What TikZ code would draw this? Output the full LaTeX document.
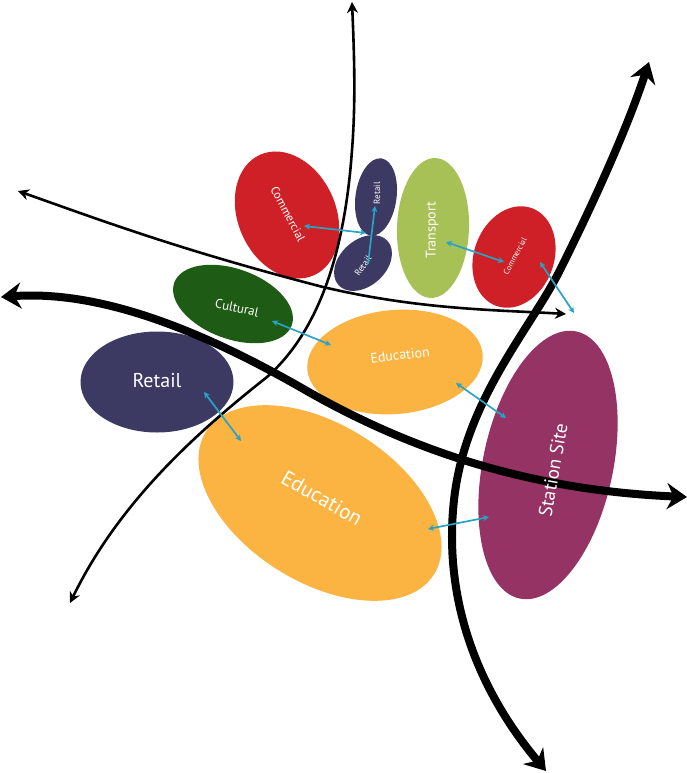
\documentclass[tikz,border=0pt]{standalone}
\usepackage{fontspec}
\setmainfont{PT Sans}
\usetikzlibrary{shapes.geometric,arrows.meta}
\definecolor{cred}{RGB}{206,32,38}
\definecolor{cnavy}{RGB}{60,58,98}
\definecolor{clime}{RGB}{168,193,87}
\definecolor{cdgreen}{RGB}{30,91,20}
\definecolor{corange}{RGB}{251,179,66}
\definecolor{cpurple}{RGB}{148,51,100}
\definecolor{cblue}{RGB}{41,163,197}
\begin{document}
\begin{tikzpicture}[x=1pt,y=-1pt,
  blob/.style={ellipse, inner sep=0pt, text=white},
  lbl/.style={text=white, inner sep=0pt},
  fs/.style={font=\fontsize{#1}{#1}\selectfont},
  link/.style={draw=cblue, line width=1.7pt, {Stealth[length=6pt,width=6pt]}-{Stealth[length=6pt,width=6pt]}},
  linkone/.style={draw=cblue, line width=1.7pt, -{Stealth[length=6pt,width=6pt]}},
  thinroad/.style={draw=black, line width=2.6pt, {Stealth[length=11pt,width=11pt]}-{Stealth[length=11pt,width=11pt]}},
  thickroad/.style={draw=black, line width=8pt, {Stealth[length=20pt,width=26pt]}-{Stealth[length=20pt,width=26pt]}}]
\useasboundingbox (0,0) rectangle (687,773);

% zones
\node[blob, fill=cred, minimum width=132pt, minimum height=98pt, rotate=-66] (com1) at (287,215) {};
\node[blob, fill=cnavy, minimum width=78pt, minimum height=41pt, rotate=82] (ret1) at (376,197) {};
\node[blob, fill=cnavy, minimum width=66pt, minimum height=46pt, rotate=42] (ret2) at (363,263) {};
\node[blob, fill=clime, minimum width=140pt, minimum height=72pt, rotate=88] (trn) at (433,228) {};
\node[blob, fill=cred, minimum width=104pt, minimum height=80pt, rotate=70] (com2) at (514,257) {};
\node[blob, fill=cdgreen, minimum width=125pt, minimum height=70pt, rotate=-20] (cul) at (233,304) {};
\node[blob, fill=corange, minimum width=176pt, minimum height=104pt, rotate=5] (edu1) at (395,362) {};
\node[blob, fill=cnavy, minimum width=153pt, minimum height=101pt] (ret3) at (157,382) {};
\node[blob, fill=corange, minimum width=269pt, minimum height=158pt, rotate=-32] (edu2) at (320,503) {};
\node[blob, fill=cpurple, minimum width=273pt, minimum height=130pt, rotate=78] (sta) at (548,465) {};

% road end points
\coordinate (a1) at (70,603);   \coordinate (a2) at (352,2);
\coordinate (b1) at (18,191);   \coordinate (b2) at (566,314);
\coordinate (c1) at (1,297);    \coordinate (c2) at (687,497);
\coordinate (d1) at (546,771);  \coordinate (d2) at (649,62);

\draw[thinroad] (a1) .. controls (120,500) and (200,430) .. (267,377)
  .. controls (320,330) and (345,250) .. (352,150)
  .. controls (356,100) and (354,50) .. (a2);
\draw[thinroad] (b1) .. controls (100,220) and (180,250) .. (323,287)
  .. controls (420,310) and (500,310) .. (b2);
\draw[thickroad] (c1) .. controls (100,290) and (200,330) .. (300,387)
  .. controls (400,445) and (520,490) .. (c2);
\draw[thickroad] (d1) .. controls (478,690) and (443,600) .. (454,500)
  .. controls (465,400) and (530,330) .. (560,270)
  .. controls (600,190) and (630,120) .. (d2);

% labels
\node[lbl, fs=12, rotate=-62] (com1t) at (288,214) {Commercial};
\node[lbl, fs=9, rotate=90] (ret1t) at (377,193) {Retail};
\node[lbl, fs=9, rotate=55] (ret2t) at (363,266) {Retail};
\node[lbl, fs=14, rotate=90] (trnt) at (432,230) {Transport};
\node[lbl, fs=8, rotate=62] (com2t) at (515,256) {Commercial};
\node[lbl, fs=13, rotate=-12] (cult) at (237,308) {Cultural};
\node[lbl, fs=14, rotate=7] (edu1t) at (400,355) {Education};
\node[lbl, fs=20] (ret3t) at (157,381) {Retail};
\node[lbl, fs=21, rotate=-30] (edu2t) at (322,498) {Education};
\node[lbl, fs=19, rotate=80] (stat) at (553,470) {Station Site};

% links
\coordinate (l1a) at (304,226); \coordinate (l1b) at (366,233);
\coordinate (l2a) at (368,264); \coordinate (l2b) at (375,206);
\coordinate (l3a) at (446,242); \coordinate (l3b) at (504,262);
\coordinate (l4a) at (540,262); \coordinate (l4b) at (574,313);
\coordinate (l5a) at (272,321); \coordinate (l5b) at (331,345);
\coordinate (l6a) at (456,383); \coordinate (l6b) at (506,418);
\coordinate (l7a) at (204,392); \coordinate (l7b) at (241,441);
\coordinate (l8a) at (428,529); \coordinate (l8b) at (489,517);
\draw[link] (l1a) -- (l1b);
\draw[linkone] (l2a) -- (l2b);
\draw[link] (l3a) -- (l3b);
\draw[link] (l4a) -- (l4b);
\draw[link] (l5a) -- (l5b);
\draw[link] (l6a) -- (l6b);
\draw[link] (l7a) -- (l7b);
\draw[link] (l8a) -- (l8b);
\end{tikzpicture}
\end{document}
